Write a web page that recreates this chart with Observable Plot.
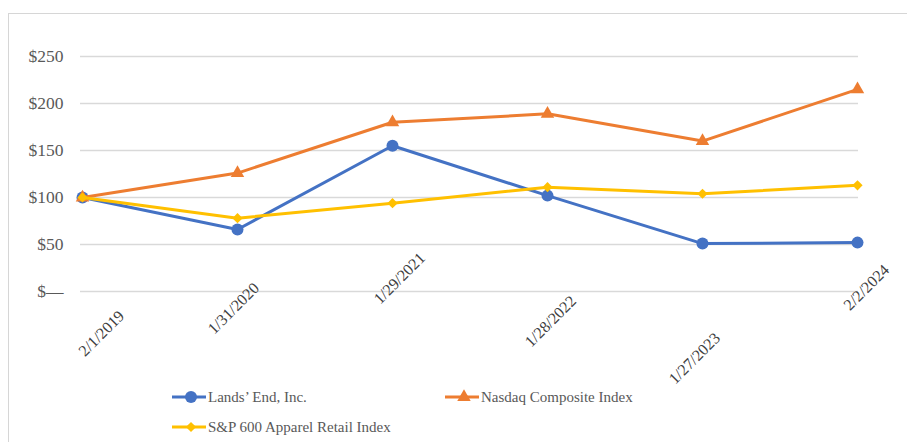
<!DOCTYPE html>
<html>
<head>
<meta charset="utf-8">
<script src="https://cdn.jsdelivr.net/npm/d3@7"></script>
<script src="https://cdn.jsdelivr.net/npm/@observablehq/plot@0.6"></script>
<style>
  html, body { margin: 0; padding: 0; background: #fff; }
  body { width: 907px; height: 442px; position: relative; overflow: hidden;
         font-family: "Liberation Serif", Tinos, "DejaVu Serif", serif; }
  #frame { position: absolute; left: 8px; top: 13px; right: 0; bottom: 0;
           border-left: 1px solid #d6d6d6; border-top: 1px solid #d6d6d6; }
  #chart { position: absolute; left: 0; top: 0; }
  #chart svg, #chart svg text { font-family: "Liberation Serif", Tinos, "DejaVu Serif", serif !important; }
  .leg { position: absolute; display: flex; align-items: center; height: 20px;
         font-size: 15px; color: #595959; }
  .leg svg { display: block; margin-right: 2px; }
</style>
</head>
<body>
<div id="frame"></div>
<div id="chart"></div>
<div id="legend"></div>
<script>
// ---- data ----
const dates = ["2/1/2019", "1/31/2020", "1/29/2021", "1/28/2022", "1/27/2023", "2/2/2024"];
const landsEnd = [100, 66, 155, 102, 51, 52];
const nasdaq = [100, 126, 180, 189, 160, 215];
const spApparel = [100, 78, 94, 111, 104, 113];
const seriesNames = ["Lands’ End, Inc.", "Nasdaq Composite Index", "S&P 600 Apparel Retail Index"];
const yTicks = [0, 50, 100, 150, 200, 250];

// ---- styling ----
const colors = ["#4472C4", "#ED7D31", "#FFC000"];
const symbols = ["circle", "triangle", "diamond2"];
const radii = [6, 5, 4.6];
const labelNudge = [[19, 42], [-4, 17], [7, -13], [3, 30], [-8, 67], [9, -4]];
const FONT = "'Liberation Serif', Tinos, 'DejaVu Serif', serif";

const seriesValues = [landsEnd, nasdaq, spApparel];
const rows = seriesNames.flatMap((s, k) =>
  dates.map((d, i) => ({series: s, date: d, value: seriesValues[k][i]})));

const seriesMarks = seriesNames.flatMap((s, k) => {
  const data = rows.filter(r => r.series === s);
  return [
    Plot.line(data, {x: "date", y: "value", stroke: colors[k], strokeWidth: 3}),
    Plot.dot(data, {x: "date", y: "value", symbol: () => symbols[k], r: radii[k], fill: colors[k], stroke: "none"})
  ];
});

const tickLabels = dates.map((d, i) => Plot.text([d], {
  x: v => v, text: v => v, frameAnchor: "bottom", rotate: -45,
  dx: labelNudge[i][0], dy: labelNudge[i][1],
  textAnchor: "middle", lineAnchor: "middle", fontSize: 16, fill: "#404040", fontFamily: FONT
}));

const chart = Plot.plot({
  width: 907, height: 375,
  marginLeft: 80, marginRight: 49, marginTop: 56, marginBottom: 84,
  x: {type: "point", domain: dates, padding: 0, axis: null},
  y: {domain: [0, 250], axis: null},
  symbol: {type: "identity"},
  style: {fontFamily: FONT, background: "transparent", overflow: "visible"},
  marks: [
    Plot.ruleY(yTicks, {stroke: "#d9d9d9", strokeWidth: 1.3}),
    Plot.axisY({ticks: yTicks, tickFormat: d => d === 0 ? "$—" : "$" + d, tickSize: 0, tickPadding: 17,
                fontSize: 17.5, fill: "#595959", label: null, fontFamily: FONT}),
    ...seriesMarks,
    ...tickLabels
  ]
});
document.getElementById("chart").appendChild(chart);

// ---- legend ----
const legendPos = [[172, 387], [445, 387], [172, 417]];
const legend = document.getElementById("legend");
const symTypes = {circle: d3.symbolCircle, triangle: d3.symbolTriangle, diamond2: d3.symbolDiamond2};
seriesNames.forEach((s, k) => {
  const item = document.createElement("div");
  item.className = "leg";
  item.style.left = legendPos[k][0] + "px";
  item.style.top = legendPos[k][1] + "px";
  const r = radii[k];
  const path = d3.symbol(symTypes[symbols[k]], Math.PI * r * r)();
  item.innerHTML = `<svg width="34" height="16"><line x1="0" x2="34" y1="8" y2="8" stroke="${colors[k]}" stroke-width="3"/>` +
    `<path d="${path}" transform="translate(19,8)" fill="${colors[k]}"/></svg><span></span>`;
  item.querySelector("span").textContent = s;
  legend.appendChild(item);
});
</script>
</body>
</html>
